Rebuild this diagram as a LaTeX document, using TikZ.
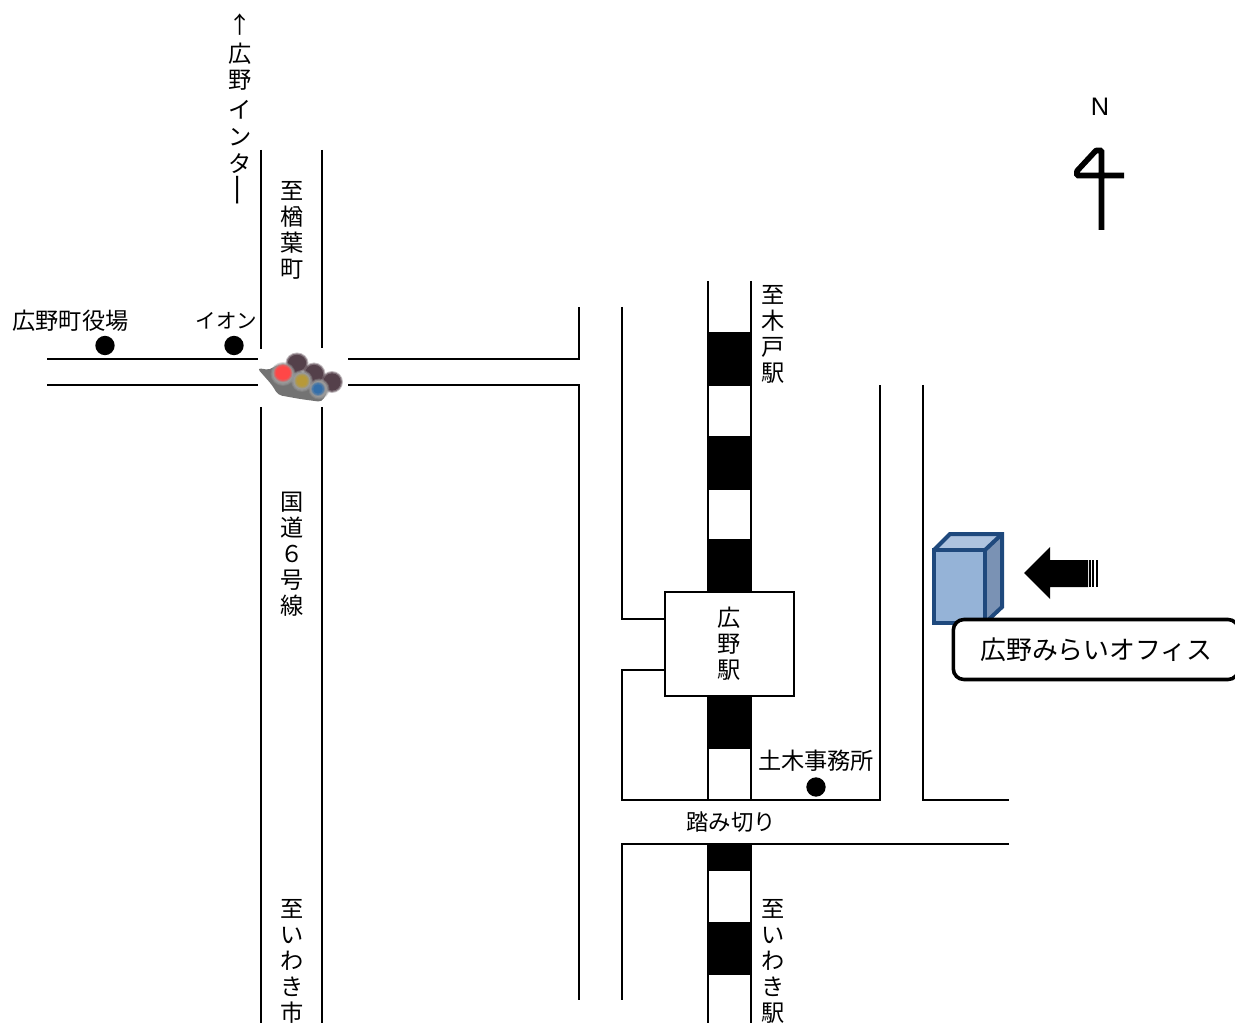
\documentclass[tikz,border=0pt]{standalone}
\usepackage{fontspec}
\setmainfont{Noto Sans CJK JP}
\newfontfamily\latinsans{Liberation Sans}
\definecolor{bedge}{HTML}{1F497D}
\definecolor{bfront}{HTML}{95B3D7}
\definecolor{btop}{HTML}{AEC3DF}
\definecolor{bside}{HTML}{7A92B4}
\definecolor{hoodc}{HTML}{54404A}
\newcommand{\jpfont}{\fontsize{17.4pt}{19.5pt}\selectfont}
\tikzset{
  road/.style={draw=black,line width=1.6pt,line cap=butt,line join=miter},
  rail/.style={fill=black,draw=none},
  lbl/.style={font=\jpfont,inner sep=0pt,align=center},
  dotmark/.style={circle,fill=black,draw=none,minimum size=14.5pt,inner sep=0pt}
}
\newcommand{\softdisc}[5]{% x,y,rx,ry,colour
  \fill[#5,opacity=.35] (#1,#2) ellipse [x radius=#3+1.5,y radius=#4+1.5];
  \fill[#5,opacity=.6] (#1,#2) ellipse [x radius=#3+.5,y radius=#4+.5];
  \fill[#5] (#1,#2) ellipse [x radius=#3-.8,y radius=#4-.8];
}
\begin{document}
\begin{tikzpicture}[x=0.75pt,y=-0.75pt]
\useasboundingbox (0,0) rectangle (1235,1023);
\clip (0,0) rectangle (1235,1023);
% rail blocks
\foreach \a/\b in {332/386,436/490,539/592,696/749,844/871,922/975}
  \fill[rail] (708,\a) rectangle (751,\b);
% main road
\draw[road] (261,150) -- (261,349);
\draw[road] (322,150) -- (322,348);
\draw[road] (261,407) -- (261,1023);
\draw[road] (322,407) -- (322,1023);
\draw[road] (47,359) -- (258,359);
\draw[road] (47,385) -- (258,385);
\draw[road] (348,359) -- (579,359) -- (579,307);
\draw[road] (348,385) -- (579,385) -- (579,1000);
% station roads
\draw[road] (622,307) -- (622,619) -- (665,619);
\draw[road] (665,670) -- (622,670) -- (622,800) -- (880,800) -- (880,385);
\draw[road] (923,385) -- (923,800) -- (1009,800);
\draw[road] (1009,844) -- (622,844) -- (622,1000);
% rails
\draw[road] (708,281) -- (708,592);
\draw[road] (751,281) -- (751,592);
\draw[road] (708,696) -- (708,800);
\draw[road] (751,696) -- (751,800);
\draw[road] (708,844) -- (708,1023);
\draw[road] (751,844) -- (751,1023);
% station
\node[draw=black,line width=1.6pt,fill=white,minimum width=96.75pt,minimum height=78pt,inner sep=0pt,lbl] (station) at (729.5,644) {広\\野\\駅};
% dots
\node[dotmark] (d1) at (105,345.5) {};
\node[dotmark] (d2) at (234,345.5) {};
\node[dotmark] (d3) at (816,787) {};
% labels
\node[lbl] (l1) at (70.5,321) {広野町役場};
\node[lbl,font=\fontsize{15.4pt}{19pt}\selectfont] (l2) at (226.5,321) {イオン};
\node[lbl] (l3) at (816,761) {土木事務所};
\node[lbl,font=\fontsize{16.8pt}{19pt}\selectfont] (l4) at (731,822.5) {踏み切り};
\node[lbl] (v1) at (292.5,230) {至\\楢\\葉\\町};
\node[lbl] (v2) at (292.5,554.5) {国\\道\\６\\号\\線};
\node[lbl] (v3) at (292.5,961.5) {至\\い\\わ\\き\\市};
\node[lbl] (v4) at (773.5,334) {至\\木\\戸\\駅};
\node[lbl] (v5) at (773.5,961.5) {至\\い\\わ\\き\\駅};
\node[lbl] (v6) at (240.5,93.5) {↑\\[2.2pt]広\\野\\[3pt]イ\\[.75pt]ン\\[.75pt]タ};
\node[lbl] (v7) at (241.5,190) {\rotatebox{90}{\scalebox{1.5}[1]{ー}}};
% north
\node[font=\latinsans\fontsize{19pt}{21pt}\selectfont,inner sep=0pt] (north) at (1100,107) {N};
\draw[line width=4.2pt,line join=bevel] (1101.5,230) -- (1101.5,150.5) -- (1096,150.5) -- (1077,171) -- (1077,175.5) -- (1124,175.5);
% traffic light
\fill[black!55,rounded corners=3] (257,368) -- (270,370) -- (276,365) -- (292,366) -- (328,390) -- (322,402) -- (300,399) -- (278,395) -- (272,385) -- cycle;
\softdisc{297}{363}{10}{9}{hoodc}
\softdisc{314}{374}{10}{10}{hoodc}
\softdisc{332}{382}{9.5}{9.5}{hoodc}
\softdisc{283}{374}{11}{10.5}{black!40}
\softdisc{283}{373}{8}{7.5}{red!72!white}
\softdisc{302}{381}{9.5}{9.5}{black!40}
\softdisc{302}{381}{6}{6}{yellow!55!black!70!orange}
\softdisc{319}{389}{9}{9}{black!40}
\softdisc{318}{389}{5.5}{5.5}{cyan!55!blue!80!black}
% building
\fill[btop] (934,550) -- (950,534) -- (1002,534) -- (985,550) -- cycle;
\fill[bside] (985,550) -- (1002,534) -- (1002,607) -- (985,623) -- cycle;
\draw[draw=bedge,fill=bfront,line width=3pt,line join=miter] (934,550) rectangle (985,623);
\draw[draw=bedge,line width=3pt,line join=miter] (934,550) -- (950,534) -- (1002,534) -- (1002,607) -- (985,623);
\draw[draw=bedge,line width=3pt] (985,550) -- (1002,534);
% arrow
\fill (1024,573) -- (1050,547) -- (1050,560) -- (1088,560) -- (1088,587) -- (1050,587) -- (1050,599) -- cycle;
\fill (1089,560) rectangle (1091,587);
\fill (1092,560) rectangle (1094,587);
\fill (1095.5,560) rectangle (1098,587);
% office label
\node[draw=black,fill=white,line width=2.7pt,rounded corners=8pt,minimum width=214pt,minimum height=45pt,inner sep=0pt,anchor=west] (officebox) at (951.5,649.5) {};
\node[font=\fontsize{19.4pt}{22pt}\selectfont,inner sep=0pt] (office) at (1096.5,650) {広野みらいオフィス};
\end{tikzpicture}
\end{document}
